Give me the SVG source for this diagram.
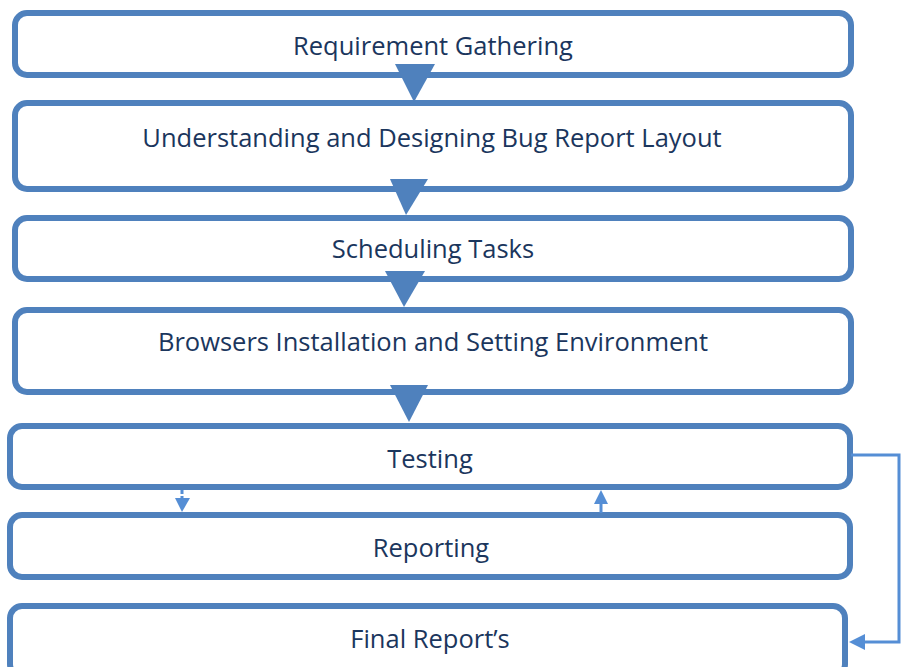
<svg xmlns="http://www.w3.org/2000/svg" width="902" height="667" viewBox="0 0 902 667">
<style>
.box{fill:#fff;stroke:#4F81BD;stroke-width:6}
.lbl{font-family:"Open Sans","Noto Sans",sans-serif;font-size:25.5px;fill:#1B365D;text-anchor:middle}
.tri{fill:#4F81BD}
.con{fill:none;stroke:#558ED5;stroke-width:3}
.conh{fill:#558ED5}
</style>
<rect width="902" height="667" fill="#fff"/>
<g id="n1"><rect class="box" x="15" y="13" width="836" height="62" rx="12"/><text class="lbl" x="433" y="55">Requirement Gathering</text></g>
<g id="n2"><rect class="box" x="15" y="103" width="836" height="86" rx="12"/><text class="lbl" x="432" y="147">Understanding and Designing Bug Report Layout</text></g>
<g id="n3"><rect class="box" x="15" y="218" width="836" height="61" rx="12"/><text class="lbl" x="433" y="258">Scheduling Tasks</text></g>
<g id="n4"><rect class="box" x="15" y="310" width="836" height="82" rx="12"/><text class="lbl" x="433" y="351">Browsers Installation and Setting Environment</text></g>
<g id="n5"><rect class="box" x="10" y="426" width="840" height="61" rx="12"/><text class="lbl" x="430" y="468">Testing</text></g>
<g id="n6"><rect class="box" x="10" y="515" width="840" height="62" rx="12"/><text class="lbl" x="431" y="557">Reporting</text></g>
<g id="n7"><rect class="box" x="10" y="606" width="835" height="70" rx="12"/><text class="lbl" x="430" y="648">Final Report’s</text></g>
<g id="connectors">
<polygon class="tri" points="395,64 435,64 414,102"/>
<polygon class="tri" points="390,179 428,179 406,215"/>
<polygon class="tri" points="385,271 425,271 404,307"/>
<polygon class="tri" points="390,385 428,385 409,422"/>
<line class="con" x1="182" y1="490" x2="182" y2="498" stroke-dasharray="4,2" stroke-width="2"/>
<polygon class="conh" points="175,498 190,498 182,512"/>
<line class="con" x1="601" y1="504" x2="601" y2="513" stroke-width="2"/>
<polygon class="conh" points="594,504 608,504 601,490"/>
<polyline class="con" points="851,455 899,455 899,642 862,642"/>
<polygon class="conh" points="849,642 865,634 865,650"/>
</g>
</svg>
